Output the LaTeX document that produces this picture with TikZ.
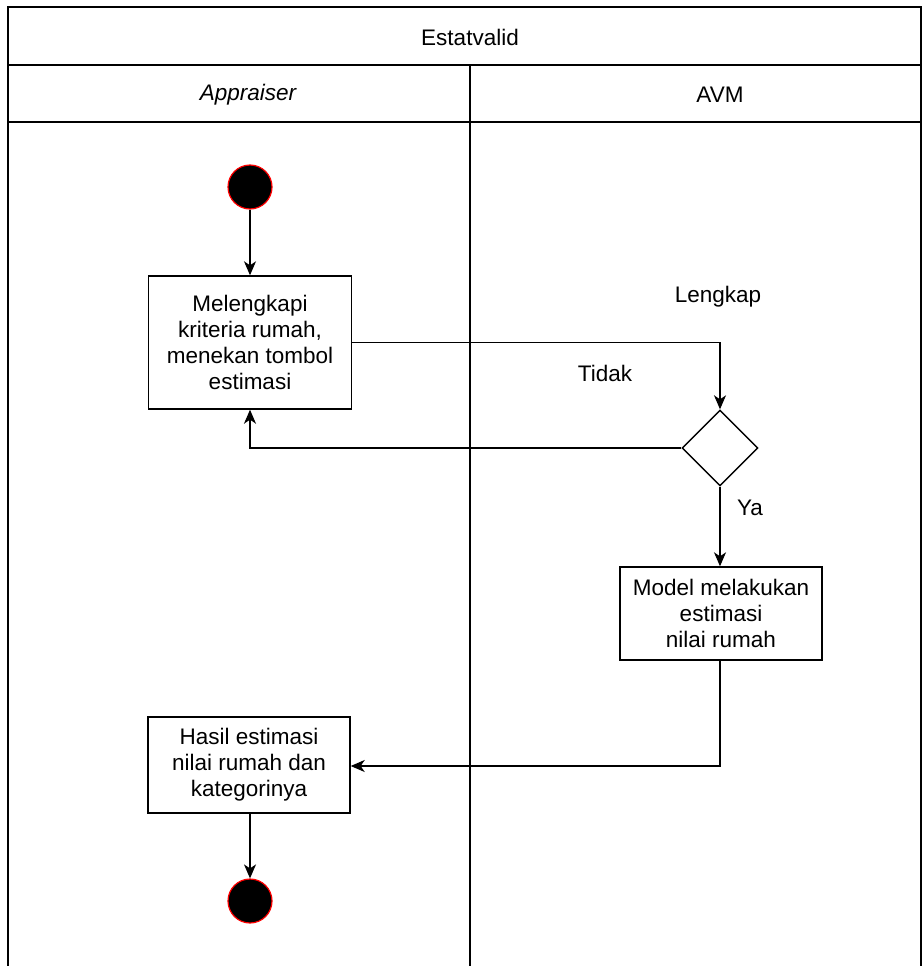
\documentclass[tikz,border=0pt]{standalone}
\usepackage{fontspec}
\setmainfont{Liberation Sans}
\usetikzlibrary{shapes.geometric,arrows.meta}
\begin{document}
\begin{tikzpicture}[x=1pt,y=-1pt,
  lane/.style={draw=black,line width=1.4pt},
  box/.style={draw=black,line width=1.4pt,minimum width=203pt,align=center,inner sep=0pt},
  dec/.style={draw=black,line width=1.4pt,diamond,minimum width=76pt,minimum height=76pt,inner sep=0pt},
  dot/.style={circle,fill=black,draw=red,line width=1.2pt,minimum size=44pt,inner sep=0pt},
  flow/.style={draw=black,line width=1.5pt,-{Stealth[length=14pt,width=12pt,inset=4pt]}},
  txt/.style={font=\fontsize{22.5}{26}\selectfont},
  lbl/.style={font=\fontsize{22.5}{26}\selectfont,inner sep=0pt}]
\useasboundingbox (0,0) rectangle (922,966);
\fill[white] (0,0) rectangle (922,966);
% pool frame
\draw[lane] (8,970) -- (8,7) -- (921,7) -- (921,970);
\draw[lane] (8,65) -- (921,65);
\draw[lane] (8,122) -- (921,122);
\draw[lane] (470,65) -- (470,970);
\node[lbl] (pool) at (470,37) {Estatvalid};
\node[lbl] (laneA) at (248,95) {\itshape Appraiser};
\node[lbl] (laneB) at (720,95) {AVM};
% nodes
\node[dot] (start) at (250,187) {};
\node[box,minimum height=133pt,txt] (b1) at (250,342.5) {Melengkapi\\kriteria rumah,\\menekan tombol\\estimasi};
\node[dec] (d) at (720,448) {};
\node[box,minimum height=93pt,txt,minimum width=202pt] (b2) at (721,613.5) {Model melakukan\\estimasi\\nilai rumah};
\node[box,minimum height=96pt,txt,minimum width=202pt] (b3) at (249,765) {Hasil estimasi\\nilai rumah dan\\kategorinya};
\node[dot] (end) at (250,901) {};
% edges
\draw[flow] (start) -- (b1);
\draw[flow] (b1.east) -| (d.north);
\draw[flow] (d.west) -| (b1.south);
\draw[flow] (d.south) -- (d.south |- b2.north);
\coordinate (c1) at (720,766);
\draw[flow] (b2.south -| c1) -- (c1) -- (b3.east |- c1);
\draw[flow] (b3.south -| end) -- (end.north);
% labels
\node[lbl] (l1) at (718,297) {Lengkap};
\node[lbl] (l2) at (605,373) {Tidak};
\node[lbl] (l3) at (750,508) {Ya};
\end{tikzpicture}
\end{document}
